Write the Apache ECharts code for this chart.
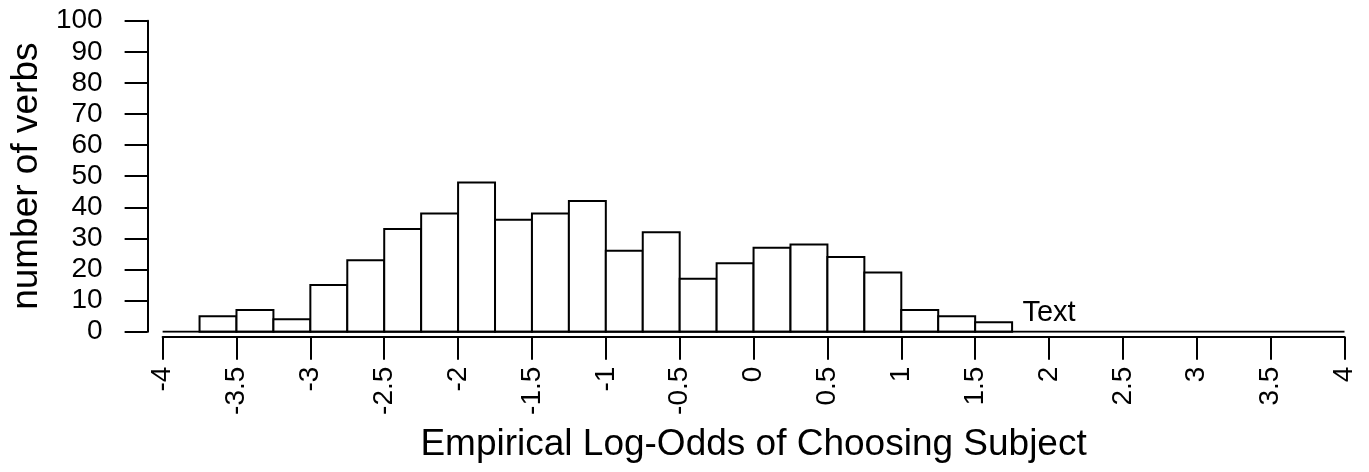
<!DOCTYPE html>
<html>
	<head>
		<meta charset="UTF-8">
		<title>Empirical Log-Odds histogram</title>
		<style>
			html, body { margin: 0; padding: 0; background: #fff; }
			#main { width: 1369px; height: 472px; }
		</style>
	</head>
	<body>
		<div id="main"></div>
	</body>
	<script type="text/javascript" src="https://cdn.jsdelivr.net/npm/echarts@6/dist/echarts.min.js"></script>
	<script type="text/javascript">
		// histogram bins (width 0.25) and counts
		var binStart = -3.75;
		var binWidth = 0.25;
		var counts = [5, 7, 4, 15, 23, 33, 38, 48, 36, 38, 42, 26, 32, 17, 22, 27, 28, 24, 19, 7, 5, 3];
		var xTicks = [-4, -3.5, -3, -2.5, -2, -1.5, -1, -0.5, 0, 0.5, 1, 1.5, 2, 2.5, 3, 3.5, 4];
		var yTicks = [0, 10, 20, 30, 40, 50, 60, 70, 80, 90, 100];
		var baseLineX = [-4, 4];
		var noteX = 2, noteY = 6, noteText = 'Text';

		var font = "'Liberation Sans', Arial, Helvetica, sans-serif";

		var binData = [];
		for (var i = 0; i < counts.length; i++) {
			var lo = binStart + i * binWidth;
			binData.push([lo, lo + binWidth, counts[i]]);
		}

		var myChart = echarts.init(document.getElementById('main'));
		var option = {
			animation: false,
			grid: {
				left: 159,
				right: 24.5,
				top: 20.7,
				bottom: 140.3
			},
			xAxis: [{
				// baseline at y = 0
				type: 'value',
				min: xTicks[0],
				max: xTicks[xTicks.length - 1],
				axisLine: { show: false },
				axisTick: { show: false },
				axisLabel: { show: false },
				splitLine: { show: false }
			}, {
				type: 'value',
				position: 'bottom',
				offset: 5,
				min: xTicks[0],
				max: xTicks[xTicks.length - 1],
				interval: 0.5,
				name: 'Empirical Log-Odds of Choosing Subject',
				nameLocation: 'middle',
				nameGap: 90,
				nameTextStyle: { fontFamily: font, fontSize: 37, color: '#000' },
				axisLine: { show: true, onZero: false, lineStyle: { color: '#000', width: 2 } },
				axisTick: { show: true, length: 23, lineStyle: { color: '#000', width: 2 } },
				axisLabel: {
					rotate: 90,
					margin: 30,
					fontFamily: font,
					fontSize: 28,
					color: '#000',
					showMinLabel: true,
					showMaxLabel: true
				},
				splitLine: { show: false }
			}],
			yAxis: {
				type: 'value',
				position: 'left',
				min: yTicks[0],
				max: yTicks[yTicks.length - 1],
				interval: 10,
				offset: 15,
				name: 'number of verbs',
				nameLocation: 'middle',
				nameGap: 97,
				nameTextStyle: { fontFamily: font, fontSize: 37, color: '#000' },
				axisLine: { show: true, onZero: false, lineStyle: { color: '#000', width: 2 } },
				axisTick: { show: true, length: 23, lineStyle: { color: '#000', width: 2 } },
				axisLabel: { margin: 45, fontFamily: font, fontSize: 28, color: '#000' },
				splitLine: { show: false }
			},
			series: [{
				name: 'bins',
				type: 'custom',
				xAxisIndex: 0,
				data: binData,
				renderItem: function (params, api) {
					var p0 = api.coord([api.value(0), api.value(2)]);
					var p1 = api.coord([api.value(1), 0]);
					return {
						type: 'rect',
						shape: { x: p0[0], y: p0[1], width: p1[0] - p0[0], height: p1[1] - p0[1] },
						style: { fill: '#fff', stroke: '#000', lineWidth: 2 }
					};
				},
				z: 2
			}, {
				name: 'baseline',
				type: 'line',
				xAxisIndex: 0,
				data: [[baseLineX[0], 0], [baseLineX[1], 0]],
				symbol: 'none',
				lineStyle: { color: '#000', width: 2 },
				z: 3
			}, {
				name: 'note',
				type: 'scatter',
				xAxisIndex: 0,
				data: [[noteX, noteY]],
				symbolSize: 0,
				itemStyle: { opacity: 1 },
				label: {
					show: true,
					position: 'inside',
					formatter: noteText,
					fontFamily: font,
					fontSize: 29,
					color: '#000',
					opacity: 1
				}
			}]
		};
		myChart.setOption(option);
	</script>
</html>
